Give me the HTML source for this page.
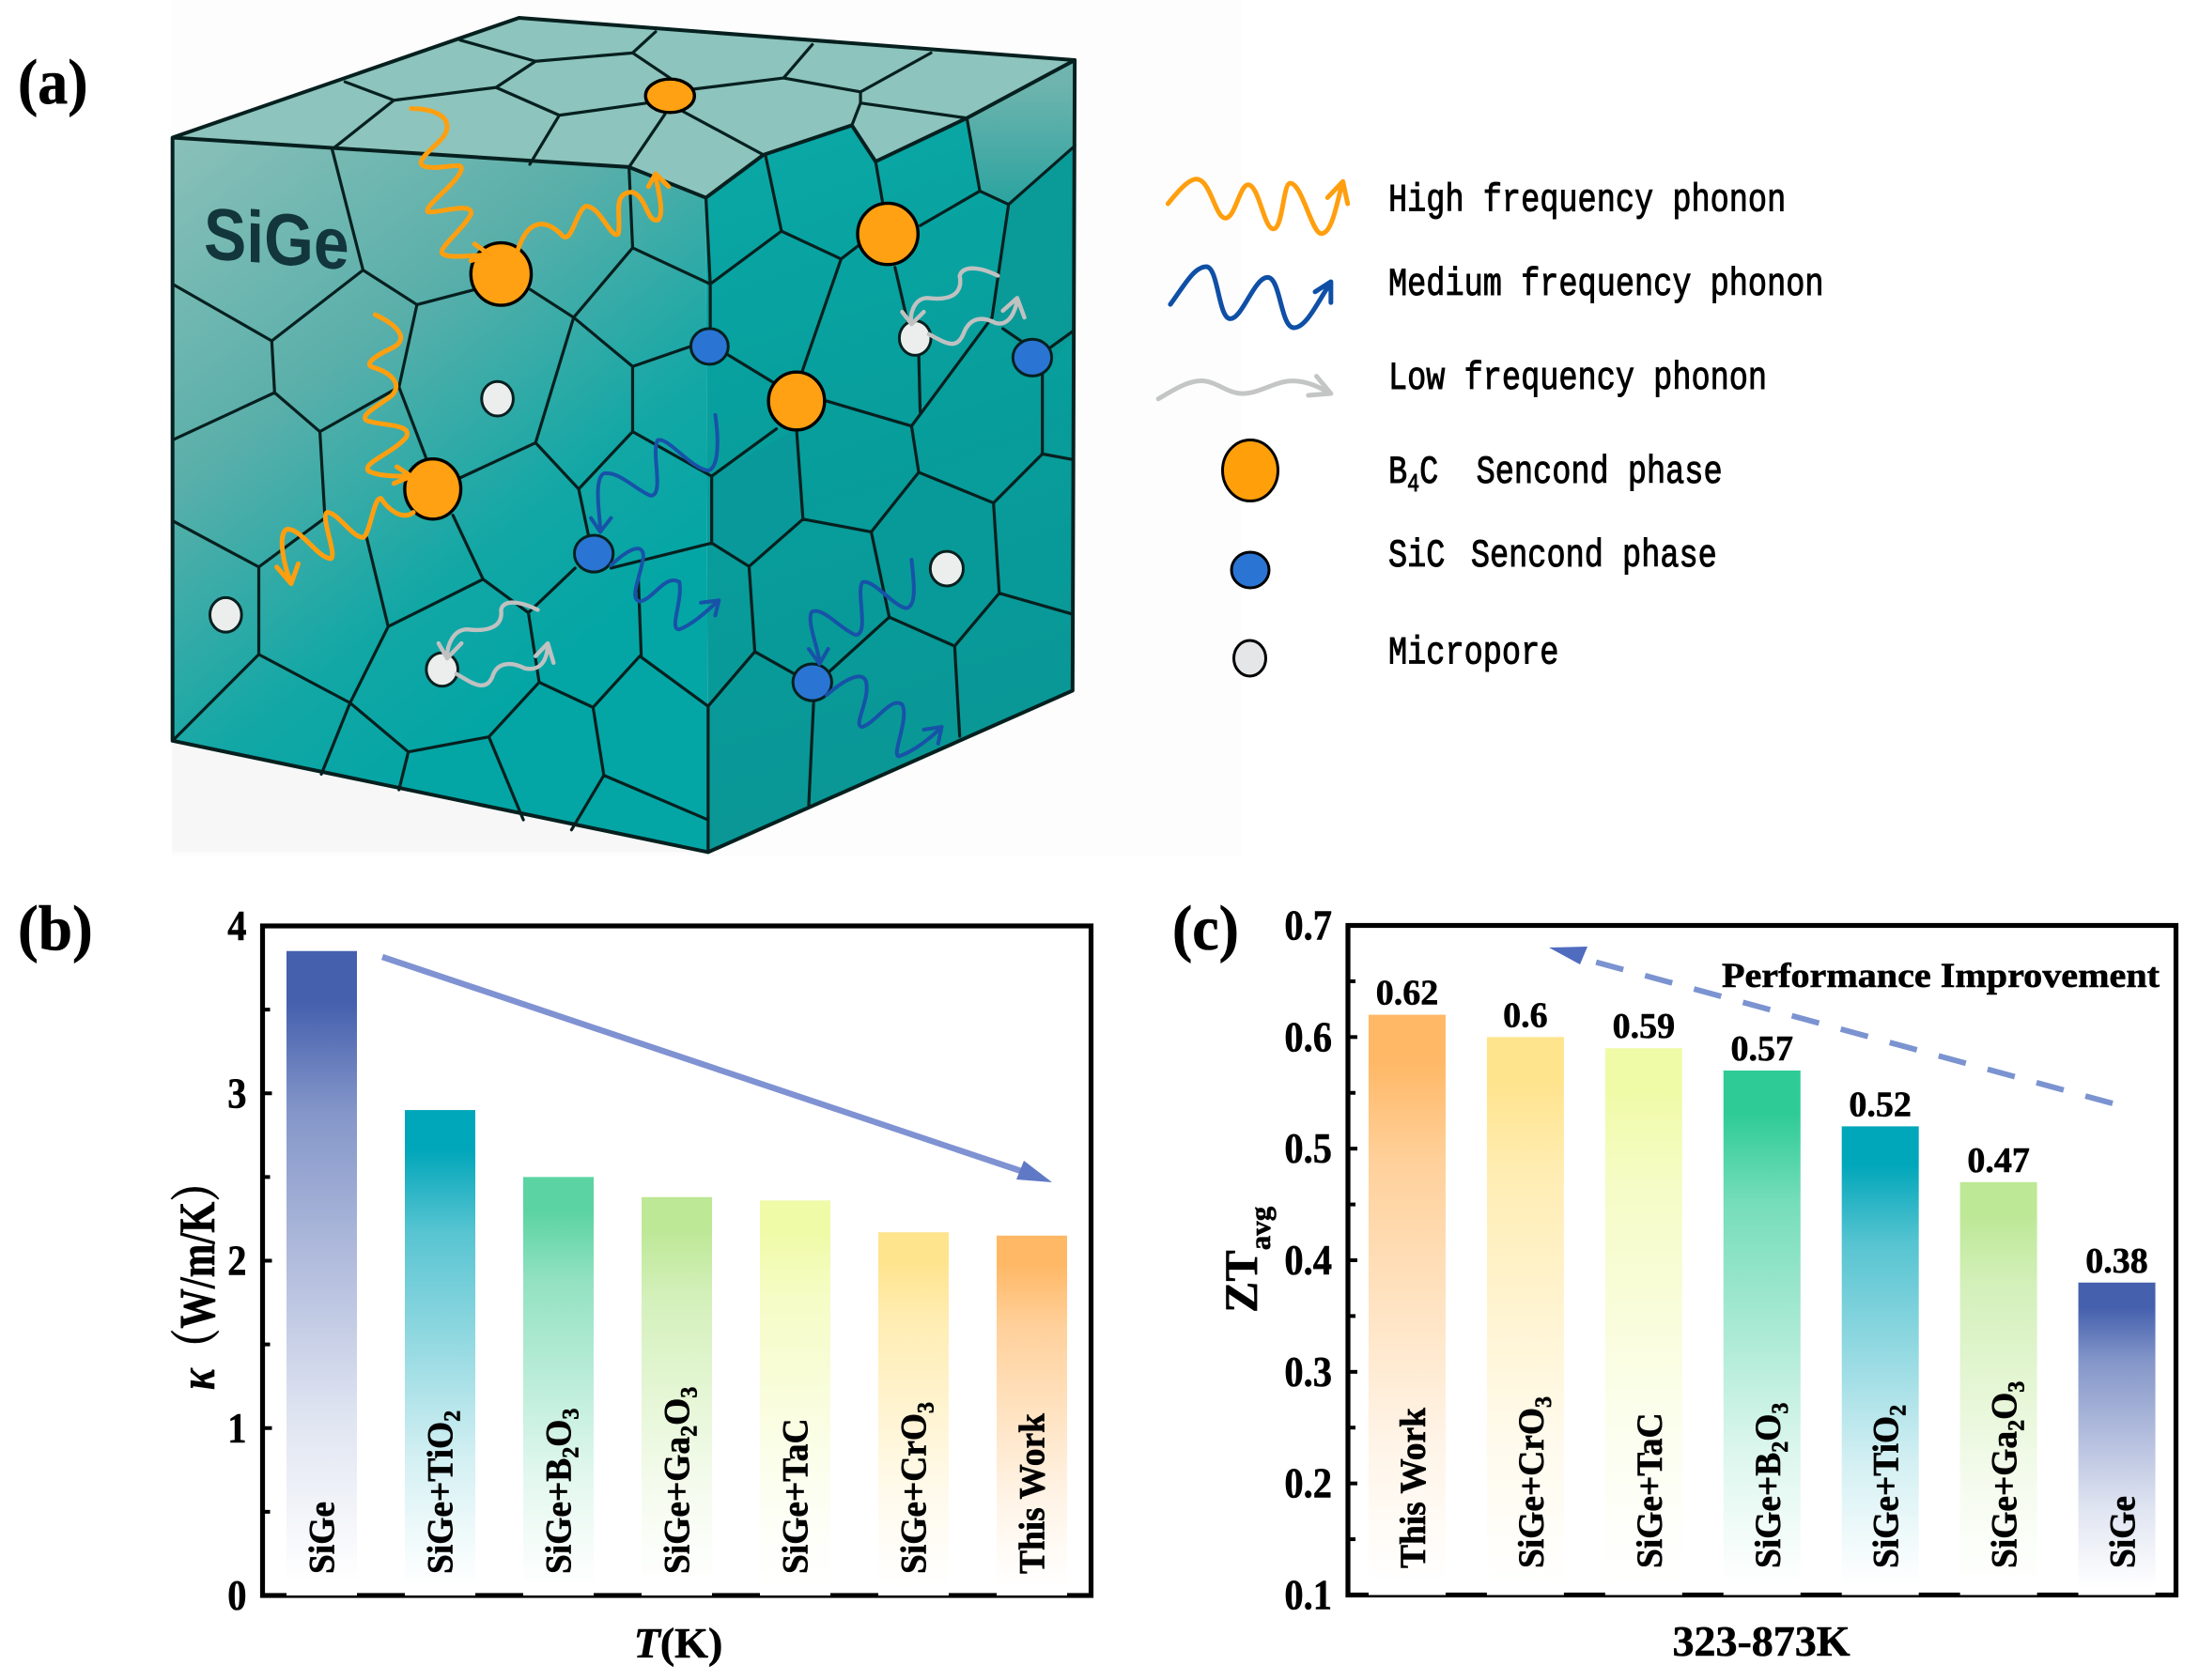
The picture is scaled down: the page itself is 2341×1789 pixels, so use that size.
<!DOCTYPE html>
<html lang="en">
<head>
<meta charset="utf-8">
<title>SiGe phonon scattering, thermal conductivity and ZT comparison</title>
<style>
html,body{margin:0;padding:0;background:#fff;}
svg{display:block;}
.serif{font-family:"Liberation Serif","Noto Serif CJK SC",serif;font-weight:bold;fill:#000;stroke:#000;stroke-width:.6px;}
.legend-text{font-family:"Liberation Mono","Noto Sans CJK SC",monospace;font-size:42px;fill:#000;stroke:#000;stroke-width:1px;white-space:pre;}
.ns{vector-effect:non-scaling-stroke;}
</style>
</head>
<body>
<svg id="figure" xmlns="http://www.w3.org/2000/svg" width="2341" height="1789" viewBox="0 0 2341 1789">
  <defs>
    <linearGradient id="frontGrad" gradientUnits="userSpaceOnUse" x1="240" y1="250" x2="985" y2="1000">
      <stop offset="0" stop-color="#8ac0b9"/>
      <stop offset=".42" stop-color="#5aafaa"/>
      <stop offset=".78" stop-color="#12a7a5"/>
      <stop offset="1" stop-color="#03a6a5"/>
    </linearGradient>
    <linearGradient id="rightGrad" gradientUnits="userSpaceOnUse" x1="985" y1="200" x2="1495" y2="1400">
      <stop offset="0" stop-color="#0aa9a6"/>
      <stop offset=".5" stop-color="#079d9b"/>
      <stop offset="1" stop-color="#0a9695"/>
    </linearGradient>
    <linearGradient id="cornerFacetGrad" gradientUnits="userSpaceOnUse" x1="1420" y1="150" x2="1420" y2="370">
      <stop offset="0" stop-color="#6fb4ae"/>
      <stop offset="1" stop-color="#2aa39f"/>
    </linearGradient>
  </defs>

  <rect x="182" y="0" width="1140" height="912" fill="#fdfdfd"/>

  <g id="cube" transform="scale(.7653 .5931)">
    <polygon points="240,1330 985,1530 240,1530" fill="#f7f7f7"/>
    <polygon points="240,247 722,32 1495,108 1345,212 1218,290 1185,225 1062,278 982,355 875,300" fill="#8dc4bd"/>
    <polygon points="240,247 875,300 982,355 985,1530 240,1330" fill="url(#frontGrad)"/>
    <polygon points="982,355 1062,278 1185,225 1218,290 1345,212 1495,108 1492,1240 985,1530" fill="url(#rightGrad)"/>
    <polygon points="1345,212 1495,108 1495,262 1403,367 1363,343" fill="url(#cornerFacetGrad)"/>
    <polygon points="990,855 1108,770 1117,932 1042,1017 990,975" fill="#09999a"/>
    <polygon points="1278,848 1382,903 1390,1065 1328,1160 1237,1108 1212,955" fill="#089a98"/>
    <polygon points="1403,367 1495,262 1495,595 1450,672 1380,570" fill="#0a9a98"/>
    <path class="ns" fill="none" stroke="#06201f" stroke-width="3.2" stroke-linejoin="round" stroke-linecap="round" d="
      M640,72 L745,110 M745,110 L690,157 M745,110 L880,95 M880,95 L912,57 M480,147 L548,180 M548,180 L462,268 M548,180 L690,157 M690,157 L778,207 M778,207 L737,295 M778,207 L900,185 M880,95 L932,140 M965,160 L1090,140 M1090,140 L1130,80 M1090,140 L1197,165 M1197,165 L1295,95 M1197,185 L1345,212 M1197,165 L1197,185 M1197,185 L1185,225 M950,200 L1062,278 M925,205 L875,300
      M462,268 L505,485 M505,485 L580,547 M505,485 L378,612 M240,510 L378,612 M378,612 L382,705 M382,705 L240,790 M382,705 L445,775 M445,775 L555,695 M580,547 L555,695 L595,830 M445,775 L452,930 M240,935 L360,1018 M360,1018 L452,930 M360,1018 L360,1175 M360,1175 L240,1330 M360,1175 L487,1262 M510,965 L540,1125 M540,1125 L487,1262 M540,1125 L672,1040 M630,925 L672,1040 M672,1040 L735,1100 M735,1100 L800,1020 M735,1100 L750,1225 M750,1225 L825,1270 M825,1270 L890,1178 M890,1178 L985,1268 M888,1040 L892,1178 M750,1225 L680,1323 M680,1323 L568,1350 M568,1350 L487,1262 M568,1350 L555,1418 M487,1262 L447,1390 M680,1323 L728,1472 M825,1270 L840,1392 M840,1392 L795,1490 M840,1392 L985,1472
      M580,547 L660,520 M738,520 L798,570 M798,570 L880,658 M880,658 L965,620 M880,658 L880,775 M880,775 L805,878 M805,878 L745,795 M745,795 L798,570 M745,795 L640,858 M805,878 L820,970 M880,775 L990,855 M990,855 L1080,770 M990,855 L990,975 M990,975 L850,1020 M990,975 L1042,1017 M985,1268 L985,1530
      M982,355 L988,510 L988,590 M1010,635 L1080,690 M988,510 L880,445 M880,445 L875,300 M880,445 L798,570 M988,510 L1087,415 M1087,415 L1065,280 M1087,415 L1170,465 M1170,465 L1195,440 M1170,465 L1115,670 M1150,720 L1268,765 M1268,765 L1278,848 M1278,848 L1212,955 M1212,955 L1117,932 M1117,932 L1108,770 M1117,932 L1042,1017 M1042,1017 L1050,1170 M1050,1170 L985,1268 M1050,1170 L1105,1210 M1212,955 L1237,1108 M1237,1108 L1150,1210 M1237,1108 L1328,1160 M1328,1160 L1390,1065 M1390,1065 L1490,1102 M1390,1065 L1382,903 M1382,903 L1278,848 M1382,903 L1450,815 M1450,815 L1492,825 M1450,815 L1450,672 M1492,595 L1460,625 M1328,1160 L1335,1322 M1132,1255 L1125,1445
      M1218,290 L1228,365 M1345,212 L1363,343 M1363,343 L1280,405 M1363,343 L1403,367 M1403,367 L1495,262 M1403,367 L1380,570 M1245,480 L1262,575 M1278,635 L1280,740 M1268,765 L1380,570 M1395,590 L1420,612"/>
    <path class="ns" fill="none" stroke="#06201f" stroke-width="4" stroke-linejoin="round" d="M240,247 L722,32 L1495,108 L1492,1240 L985,1530 L240,1330 Z M240,247 L875,300 L982,355 L1062,278 L1185,225 L1218,290 L1345,212 L1495,108"/>

    <g fill="#ffa112" stroke="#000" stroke-width="3.4">
      <ellipse class="ns" cx="932" cy="172" rx="34" ry="30"/>
      <ellipse class="ns" cx="697" cy="492" rx="42" ry="56"/>
      <ellipse class="ns" cx="1235" cy="420" rx="42" ry="55"/>
      <ellipse class="ns" cx="1108" cy="720" rx="39" ry="52"/>
      <ellipse class="ns" cx="602" cy="878" rx="39" ry="54"/>
    </g>
    <g fill="#2a74d4" stroke="#06201f" stroke-width="3">
      <ellipse class="ns" cx="987" cy="622" rx="26" ry="32"/>
      <ellipse class="ns" cx="1436" cy="642" rx="27" ry="33"/>
      <ellipse class="ns" cx="826" cy="994" rx="27" ry="33"/>
      <ellipse class="ns" cx="1130" cy="1225" rx="27" ry="33"/>
    </g>
    <g fill="#eceeee" stroke="#06201f" stroke-width="3">
      <ellipse class="ns" cx="692" cy="716" rx="22" ry="31"/>
      <ellipse class="ns" cx="1273" cy="607" rx="22" ry="31"/>
      <ellipse class="ns" cx="1317" cy="1021" rx="23" ry="31"/>
      <ellipse class="ns" cx="314" cy="1104" rx="22" ry="31"/>
      <ellipse class="ns" cx="615" cy="1202" rx="22" ry="30"/>
    </g>

    <g fill="none" stroke="#ff9f0f" stroke-width="5" stroke-linecap="round" stroke-linejoin="round">
      <path class="ns" d="M572,195 C620,195 635,225 610,255 C590,280 575,295 595,300 C620,305 650,285 640,310 C630,335 590,370 595,380 C605,385 660,360 655,385 C645,410 610,445 615,455 C625,465 650,458 680,458 M660,438 L682,458 L655,468"/>
      <path class="ns" d="M720,450 C735,390 760,395 780,420 C795,445 800,380 815,370 C835,370 850,430 860,420 C865,390 850,345 880,345 C900,355 900,400 915,395 C925,385 915,340 912,315 M902,335 L912,312 L930,335"/>
      <path class="ns" d="M522,565 C555,585 570,610 545,625 C520,640 505,655 520,660 C545,670 560,690 545,710 C525,730 500,745 510,755 C530,765 575,760 565,785 C545,815 505,830 512,845 C525,855 550,855 570,855 M552,838 L572,855 L548,868"/>
      <path class="ns" d="M575,920 C560,935 540,915 530,895 C520,890 515,960 505,965 C490,965 470,920 455,920 C445,925 470,1000 460,1003 C440,1000 420,950 400,950 C385,955 395,1020 405,1045 M385,1018 L405,1048 L415,1012"/>
    </g>
    <g fill="none" stroke="#1752a8" stroke-width="4" stroke-linecap="round" stroke-linejoin="round">
      <path class="ns" d="M995,745 C1000,790 1000,840 985,845 C960,840 930,785 915,790 C905,810 925,890 905,890 C885,880 860,845 840,850 C825,860 835,930 835,950 M822,930 L835,955 L850,930"/>
      <path class="ns" d="M850,1015 C870,990 895,970 895,1000 C890,1040 875,1075 890,1080 C910,1075 925,1030 945,1045 C950,1080 930,1130 945,1130 C965,1120 985,1095 1000,1078 M975,1082 L1000,1078 L995,1105"/>
      <path class="ns" d="M1268,1005 C1272,1050 1275,1090 1260,1092 C1240,1085 1215,1040 1200,1045 C1190,1060 1210,1140 1190,1140 C1170,1130 1145,1090 1130,1098 C1120,1110 1140,1170 1140,1190 M1125,1165 L1140,1192 L1152,1165"/>
      <path class="ns" d="M1150,1248 C1170,1225 1200,1200 1205,1225 C1210,1260 1185,1305 1200,1305 C1220,1295 1240,1250 1255,1265 C1265,1290 1240,1355 1250,1358 C1270,1350 1295,1325 1310,1305 M1285,1310 L1310,1305 L1305,1335"/>
    </g>
    <g fill="none" stroke="#c0c1c1" stroke-width="4.4" stroke-linecap="round" stroke-linejoin="round">
      <path class="ns" d="M1388,495 C1365,480 1340,475 1335,495 C1340,530 1320,540 1290,535 C1270,535 1265,570 1268,578 M1255,560 L1268,582 L1285,560"/>
      <path class="ns" d="M1292,600 C1315,615 1330,630 1340,600 C1350,565 1370,570 1385,580 C1400,585 1410,570 1415,540 M1395,558 L1415,535 L1425,570"/>
      <path class="ns" d="M748,1095 C725,1080 700,1075 697,1095 C700,1125 680,1135 650,1130 C630,1130 622,1160 622,1178 M610,1155 L622,1182 L642,1155"/>
      <path class="ns" d="M635,1210 C655,1225 675,1245 685,1215 C692,1185 715,1190 730,1200 C750,1205 760,1190 762,1160 M745,1178 L762,1155 L770,1190"/>
    </g>
  </g>
  <text transform="translate(217,275) skewY(4.5) scale(.87,1)" font-family="'Liberation Sans',sans-serif" font-weight="bold" font-size="78" fill="#12363c">SiGe</text>

  <text class="serif" transform="translate(19,110) scale(.94,1)" font-size="68">(a)</text>
  <text class="serif" transform="translate(19,1011) scale(.96,1)" font-size="68">(b)</text>
  <text class="serif" transform="translate(1248,1011) scale(.94,1)" font-size="68">(c)</text>

  <g id="legend">
    <g transform="translate(1200,150) scale(.5102,.3827)" fill="none" stroke-linecap="round" stroke-linejoin="round">
      <path class="ns" stroke="#ff9f0f" stroke-width="5" d="M85,175 C115,125 135,100 150,108 C175,120 185,215 205,215 C225,215 235,122 252,122 C275,122 285,245 305,245 C325,245 325,118 340,118 C365,118 385,258 405,258 C430,258 440,150 450,115 M418,158 L450,113 L460,175"/>
      <path class="ns" stroke="#0f4fa6" stroke-width="5" d="M90,455 C120,400 140,350 165,350 C190,350 190,495 215,495 C240,495 265,380 293,380 C320,380 320,520 348,520 C375,520 400,440 425,395 M392,420 L425,392 L425,450"/>
      <path class="ns" stroke="#c4c5c5" stroke-width="5" d="M65,718 C100,690 130,665 160,668 C190,672 210,705 245,703 C280,700 310,668 345,668 C375,668 400,685 425,703 M395,655 L425,703 L378,708"/>
    </g>
    <ellipse cx="1331" cy="501" rx="29.5" ry="32.5" fill="#ff9f0a" stroke="#000" stroke-width="3"/>
    <ellipse cx="1331" cy="607" rx="20" ry="19" fill="#2a74d4" stroke="#000" stroke-width="3"/>
    <ellipse cx="1330.5" cy="701" rx="17" ry="19" fill="#e4e6e8" stroke="#000" stroke-width="3"/>
    <text class="legend-text" transform="translate(1478,224.5) scale(.8,1)">High frequency phonon</text>
    <text class="legend-text" transform="translate(1478,314) scale(.8,1)">Medium frequency phonon</text>
    <text class="legend-text" transform="translate(1478,414) scale(.8,1)">Low frequency phonon</text>
    <text class="legend-text" transform="translate(1478,514) scale(.8,1)">B<tspan dy="9" font-size="27">4</tspan><tspan dy="-9">C  Sencond phase</tspan></text>
    <text class="legend-text" transform="translate(1478,603) scale(.8,1)">SiC <tspan dx="9">Sencond phase</tspan></text>
    <text class="legend-text" transform="translate(1478,706.5) scale(.8,1)">Micropore</text>
  </g>

  <g id="chartB"></g>
  <g id="chartC"></g>

  <g>
    <line x1="407" y1="1019" x2="1102" y2="1252" stroke="#7f92d2" stroke-width="6.5"/>
    <polygon points="1120,1259 1082,1256 1090,1236" fill="#5f79c6"/>
  </g>
  <g>
    <line x1="2249" y1="1175" x2="1675" y2="1018" stroke="#7b93d0" stroke-width="6" stroke-dasharray="30 24"/>
    <polygon points="1649,1009 1690,1008 1682,1027" fill="#4f6cbf"/>
  </g>
  <text class="serif" x="1833" y="1051" font-size="37" textLength="466" lengthAdjust="spacingAndGlyphs">Performance Improvement</text>

  <text class="serif" transform="translate(228,1480) rotate(-90) scale(.79,1)" font-size="54"><tspan font-style="italic">κ</tspan>（W/m/K）</text>
  <text class="serif" x="722" y="1765" font-size="46" text-anchor="middle"><tspan font-style="italic">T</tspan>(K)</text>
  <text class="serif" transform="translate(1338,1398) rotate(-90)" font-size="50">ZT<tspan dy="14" font-size="31">avg</tspan></text>
  <text class="serif" x="1875" y="1763" font-size="46" text-anchor="middle">323-873K</text>
</svg>

<script>
const categoriesB = ['SiGe', 'SiGe+TiO_2', 'SiGe+B_2O_3', 'SiGe+Ga_2O_3', 'SiGe+TaC', 'SiGe+CrO_3', 'This Work'];
const valuesB = [3.85, 2.9, 2.5, 2.38, 2.36, 2.17, 2.15];
const ticksB = [0, 1, 2, 3, 4];
const minorTicksB = [0.5, 1.5, 2.5, 3.5];
const tickLabelsB = ['0', '1', '2', '3', '4'];
const colorsB = ['#4560ad', '#00a6ba', '#5bd3a2', '#bde896', '#f0fba8', '#ffe48e', '#ffb866'];

const categoriesC = ['This Work', 'SiGe+CrO_3', 'SiGe+TaC', 'SiGe+B_2O_3', 'SiGe+TiO_2', 'SiGe+Ga_2O_3', 'SiGe'];
const valuesC = [0.62, 0.6, 0.59, 0.57, 0.52, 0.47, 0.38];
const valueLabelsC = ['0.62', '0.6', '0.59', '0.57', '0.52', '0.47', '0.38'];
const ticksC = [0.1, 0.2, 0.3, 0.4, 0.5, 0.6, 0.7];
const minorTicksC = [0.15, 0.25, 0.35, 0.45, 0.55, 0.65];
const tickLabelsC = ['0.1', '0.2', '0.3', '0.4', '0.5', '0.6', '0.7'];
const colorsC = ['#ffb866', '#ffe48e', '#f0fba8', '#2ecb96', '#00a6ba', '#bde896', '#4560ad'];

const fadeOffsets = [0, 0.08, 0.25, 0.5, 0.72, 0.88, 0.98];
const fadeStrengths = [1, 1, 0.66, 0.4, 0.17, 0.06, 0];

const NS = 'http://www.w3.org/2000/svg';
function make(tag, attrs, parent) {
  const el = document.createElementNS(NS, tag);
  for (const k in attrs) el.setAttribute(k, attrs[k]);
  if (parent) parent.appendChild(el);
  return el;
}
function mixWhite(hex, f) {
  const n = parseInt(hex.slice(1), 16);
  const ch = function (c) { return Math.round(255 - (255 - c) * f); };
  return 'rgb(' + ch(n >> 16) + ',' + ch((n >> 8) & 255) + ',' + ch(n & 255) + ')';
}
function fillLabel(textEl, label) {
  const parts = label.split(/_(\d)/);
  let lowered = false;
  parts.forEach(function (part, i) {
    if (!part) return;
    const span = make('tspan', {}, textEl);
    span.textContent = part;
    if (i % 2 === 1) {
      span.setAttribute('dy', '8');
      span.setAttribute('font-size', '25');
      lowered = true;
    } else if (lowered) {
      span.setAttribute('dy', '-8');
      lowered = false;
    }
  });
}
function drawChart(opts) {
  const g = document.getElementById(opts.id);
  const box = opts.box;
  const band = (box.r - box.l) / opts.categories.length;
  const x = function (i) { return box.l + band * (i + 0.5); };
  const y = function (v) { return box.b - (v - opts.min) / (opts.max - opts.min) * (box.b - box.t); };
  const defs = make('defs', {}, g);

  const frame = make('rect', { x: box.l, y: box.t, width: box.r - box.l, height: box.b - box.t, fill: '#fff', stroke: '#000', 'stroke-width': 5.2 }, g);
  
  

  opts.ticks.forEach(function (t, i) {
    const tick = make('line', { x1: box.l, x2: box.l + 10, y1: y(t), y2: y(t), stroke: '#000', 'stroke-width': 4 }, g);
    
    
    const label = make('text', { class: 'serif', transform: 'translate(' + (box.l - 17) + ',' + (y(t) + 15) + ') scale(.88,1)', 'text-anchor': 'end', 'font-size': 46 }, g);
    label.textContent = opts.tickLabels[i];
    
    
  });
  opts.minorTicks.forEach(function (t) {
    const tick = make('line', { x1: box.l, x2: box.l + 8, y1: y(t), y2: y(t), stroke: '#000', 'stroke-width': 4 }, g);
    
    
  });

  opts.values.forEach(function (v, i) {
    const gid = opts.id + 'Grad' + i;
    const grad = make('linearGradient', { id: gid, x1: 0, y1: 0, x2: 0, y2: 1 }, defs);
    fadeOffsets.forEach(function (off, k) {
      make('stop', { offset: off, 'stop-color': mixWhite(opts.colors[i], fadeStrengths[k]) }, grad);
    });
    const top = y(v);
    const bar = make('rect', { x: x(i) - opts.barWidth / 2, y: top, width: opts.barWidth, height: box.b - top, fill: 'url(#' + gid + ')' }, g);
    
    

    const label = make('text', { class: 'serif', transform: 'translate(' + (x(i) + opts.labelOffset) + ',' + opts.labelBottom + ') rotate(-90) scale(.96,1)', 'font-size': 39 }, g);
    fillLabel(label, opts.categories[i]);
    
    

    if (opts.valueLabels) {
      const val = make('text', { class: 'serif', x: x(i), y: top - 11, 'text-anchor': 'middle', 'font-size': 38 }, g);
      val.textContent = opts.valueLabels[i];
      
      
    }
  });
}
drawChart({
  id: 'chartB', box: { l: 279.5, r: 1161.5, t: 986, b: 1699 }, min: 0, max: 4,
  categories: categoriesB, values: valuesB, ticks: ticksB, minorTicks: minorTicksB,
  tickLabels: tickLabelsB, colors: colorsB, barWidth: 75, labelOffset: 13, labelBottom: 1676
});
drawChart({
  id: 'chartC', box: { l: 1435, r: 2316.5, t: 985.5, b: 1698.5 }, min: 0.1, max: 0.7,
  categories: categoriesC, values: valuesC, ticks: ticksC, minorTicks: minorTicksC,
  tickLabels: tickLabelsC, colors: colorsC, barWidth: 82, labelOffset: 19, labelBottom: 1670,
  valueLabels: valueLabelsC
});
</script>
</body>
</html>
